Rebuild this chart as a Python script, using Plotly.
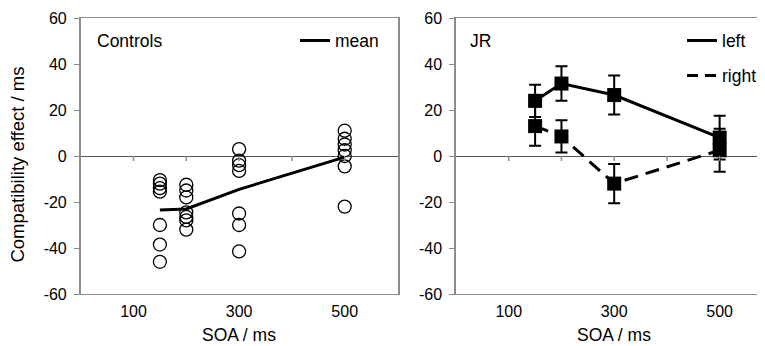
import plotly.graph_objects as go

# ---------------- data ----------------
soa_levels = [150, 200, 300, 500]
controls_150 = [-10.5, -12, -14, -15.5, -30, -38.5, -46]
controls_200 = [-12.5, -15, -18, -24.5, -26.5, -28, -32]
controls_300 = [3, -2, -4, -6.5, -25, -30, -41.5]
controls_500 = [11, 7.5, 5, 2.5, 0, -4.5, -22]
controls_mean = [-23.5, -23, -14.5, -0.5]

jr_left = [24, 31.5, 26.5, 8]
jr_left_err = [7, 7.5, 8.5, 9.5]
jr_right = [13, 8.5, -12, 2.5]
jr_right_err = [8.5, 7, 8.5, 9.3]

x_tick_labels = [100, 300, 500]
x_minor_ticks = [100, 200, 300, 400, 500]
y_ticks = [-60, -40, -20, 0, 20, 40, 60]
y_tick_text = ["-60", "-40", "-20", "0", "20", "40", "60"]

FONT = "Liberation Sans, Arial, sans-serif"
GREY = "#8c8c8c"
TICK_SIZE = 16
TEXT_SIZE = 17.5

# page is rendered with an 8px body margin; work in page pixels
OFF = 8
W, H = 765 - OFF, 346 - OFF
PLOT_TOP, PLOT_BOTTOM = 18.3, 294.5
PLOT_H = PLOT_BOTTOM - PLOT_TOP


def px(xp):  # page x pixel -> paper x
    return (xp - OFF) / W


def py(yp):  # page y pixel -> paper y (relative to plot area)
    return (PLOT_BOTTOM - yp) / PLOT_H


fig = go.Figure()

# Controls: individual circles
for s, vals in zip(soa_levels, [controls_150, controls_200, controls_300, controls_500]):
    fig.add_trace(go.Scatter(
        x=[s] * len(vals), y=vals, mode="markers",
        marker=dict(symbol="circle-open", size=13, color="black", line=dict(width=1.3, color="black")),
        showlegend=False, xaxis="x", yaxis="y", hoverinfo="skip"))

fig.add_trace(go.Scatter(
    x=soa_levels, y=controls_mean, mode="lines", name="mean",
    line=dict(color="black", width=3), xaxis="x", yaxis="y", legend="legend"))

# JR
RIGHT_DASH = "14px,8px"
fig.add_trace(go.Scatter(
    x=soa_levels, y=jr_right, mode="lines+markers", name="right",
    line=dict(color="black", width=3, dash=RIGHT_DASH),
    marker=dict(symbol="square", size=14, color="black"),
    error_y=dict(type="data", array=jr_right_err, color="black", thickness=2, width=6),
    xaxis="x2", yaxis="y2", showlegend=False))
fig.add_trace(go.Scatter(
    x=soa_levels, y=jr_left, mode="lines+markers", name="left",
    line=dict(color="black", width=3),
    marker=dict(symbol="square", size=14, color="black"),
    error_y=dict(type="data", array=jr_left_err, color="black", thickness=2, width=6),
    xaxis="x2", yaxis="y2", showlegend=False))
# legend entries (line samples only)
fig.add_trace(go.Scatter(x=[None], y=[None], mode="lines", name="left",
                         line=dict(color="black", width=3), xaxis="x2", yaxis="y2",
                         legend="legend2"))
fig.add_trace(go.Scatter(x=[None], y=[None], mode="lines", name="right",
                         line=dict(color="black", width=3, dash="11px,7px"), xaxis="x2", yaxis="y2",
                         legend="legend3"))


def xaxis_cfg(domain, rng):
    return dict(domain=domain, range=rng, showline=True, linecolor=GREY, linewidth=1,
                mirror=True, tickmode="array", tickvals=x_tick_labels,
                ticks="outside", ticklen=3, tickcolor="rgba(0,0,0,0)",
                showgrid=False, zeroline=False,
                tickfont=dict(family=FONT, size=TICK_SIZE, color="black"))


def yaxis_cfg(anchor, mirror):
    return dict(anchor=anchor, range=[-60, 60], tickmode="array", tickvals=y_ticks,
                ticktext=y_tick_text, showline=True,
                linecolor=GREY, linewidth=1.5, mirror=mirror, ticks="outside", ticklen=5,
                tickcolor=GREY, showgrid=False, zeroline=True, zerolinecolor="#555555",
                zerolinewidth=1, ticklabelstandoff=4,
                tickfont=dict(family=FONT, size=TICK_SIZE, color="black"))


left_dom = [px(80.7), px(397.5)]
right_dom = [px(456.0), 1.0]

legend_common = dict(xanchor="left", yanchor="middle", bgcolor="rgba(0,0,0,0)",
                     font=dict(family=FONT, size=TEXT_SIZE))

fig.update_layout(
    width=W, height=H,
    margin=dict(l=0, r=0, t=PLOT_TOP - OFF, b=H - (PLOT_BOTTOM - OFF)),
    paper_bgcolor="white", plot_bgcolor="white",
    xaxis=xaxis_cfg(left_dom, [0, 600]),
    xaxis2=dict(xaxis_cfg(right_dom, [0, 586]), anchor="y2"),
    yaxis=yaxis_cfg("x", True),
    yaxis2=yaxis_cfg("x2", False),
    font=dict(family=FONT, size=TEXT_SIZE, color="black"),
    legend=dict(legend_common, x=px(295), y=py(41)),
    legend2=dict(legend_common, x=px(682), y=py(41)),
    legend3=dict(legend_common, x=px(682), y=py(76)),
)

# x-axis ticks on the zero line
shapes = []
for xa, ya in [("x", "y"), ("x2", "y2")]:
    for t in x_minor_ticks:
        shapes.append(dict(type="line", xref=xa, yref=ya, ysizemode="pixel", yanchor=0,
                           x0=t, x1=t, y0=0, y1=-5, line=dict(color=GREY, width=1.5)))
fig.update_layout(shapes=shapes)

txt = dict(family=FONT, size=TEXT_SIZE, color="black")
ann = [
    dict(text="Controls", xref="paper", yref="paper", x=px(95), y=py(41),
         xanchor="left", yanchor="middle", showarrow=False, font=txt),
    dict(text="JR", xref="paper", yref="paper", x=px(468), y=py(41),
         xanchor="left", yanchor="middle", showarrow=False, font=txt),
    dict(text="SOA / ms", xref="x", yref="paper", x=300, y=py(336),
         xanchor="center", yanchor="middle", showarrow=False, font=txt),
    dict(text="SOA / ms", xref="x2", yref="paper", x=300, y=py(336),
         xanchor="center", yanchor="middle", showarrow=False, font=txt),
    dict(text="Compatibility effect / ms", xref="paper", yref="paper", x=px(18), y=py(165),
         xanchor="center", yanchor="middle", textangle=-90, showarrow=False,
         font=dict(family=FONT, size=18.5, color="black")),
]
fig.update_layout(annotations=ann)

fig.write_html("out.html")
